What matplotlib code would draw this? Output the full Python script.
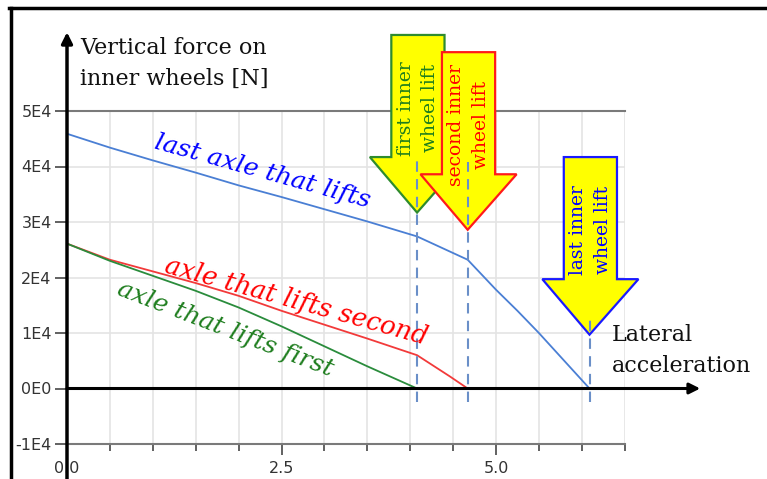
import matplotlib
matplotlib.use("Agg")
import matplotlib.pyplot as plt
from matplotlib.lines import Line2D
from matplotlib.patches import Polygon
from matplotlib.ticker import FixedLocator, MultipleLocator
import numpy as np

# ---------------- data ----------------
x_last = [0, 0.5, 1.0, 1.5, 2.0, 2.5, 3.0, 3.5, 4.08, 4.67, 5.0, 5.25, 5.5, 6.09]
f_last = [4.59e4, 4.34e4, 4.11e4, 3.89e4, 3.66e4, 3.45e4, 3.23e4, 3.01e4, 2.74e4,
          2.32e4, 1.78e4, 1.40e4, 1.00e4, 0.0]
x_second = [0, 0.5, 1.0, 1.5, 2.0, 2.5, 3.0, 3.5, 4.08, 4.46, 4.67]
f_second = [2.61e4, 2.32e4, 2.11e4, 1.90e4, 1.67e4, 1.40e4, 1.15e4, 0.90e4, 0.60e4,
            0.22e4, 0.0]
x_first = [0, 0.5, 1.0, 1.5, 2.0, 2.5, 3.0, 3.5, 4.08]
f_first = [2.61e4, 2.30e4, 2.03e4, 1.76e4, 1.46e4, 1.12e4, 0.76e4, 0.40e4, 0.0]

lift_x = [4.08, 4.67, 6.09]
arrow_tip_y = [3.17e4, 2.86e4, 0.97e4]
dash_top_y = [4.13e4, 4.09e4, 1.33e4]
arrow_texts = ["first inner\nwheel lift", "second inner\nwheel lift", "last inner\nwheel lift"]

y_ticks = [-1e4, 0, 1e4, 2e4, 3e4, 4e4, 5e4]
y_tick_labels = ["-1E4", "0E0", "1E4", "2E4", "3E4", "4E4", "5E4"]
x_ticks = [0.0, 2.5, 5.0]
x_tick_labels = ["0.0", "2.5", "5.0"]

series_labels = ["last axle that lifts", "axle that lifts second", "axle that lifts first"]

# ---------------- styling ----------------
W, H = 767, 479
fig = plt.figure(figsize=(W / 100, H / 100), dpi=100)
fig.patch.set_facecolor("white")

ax_l, ax_r, ax_t, ax_b = 67, 624.7, 111, 444
ax = fig.add_axes([ax_l / W, 1 - ax_b / H, (ax_r - ax_l) / W, (ax_b - ax_t) / H])
ax.set_xlim(0, 6.5)
ax.set_ylim(-1e4, 5e4)

c_blue_line = "#4a7fd4"
c_red_line = "#f23a3a"
c_green_line = "#2a8c3c"
c_dash = "#6a8fc8"
serif = "DejaVu Serif"
sans = "DejaVu Sans"

for s in ["left", "right"]:
    ax.spines[s].set_visible(False)
for s in ["top", "bottom"]:
    ax.spines[s].set_color("#7a7a7a")
    ax.spines[s].set_linewidth(1.5)

ax.xaxis.set_major_locator(FixedLocator(x_ticks))
ax.set_xticklabels(x_tick_labels)
ax.xaxis.set_minor_locator(MultipleLocator(0.5))
ax.yaxis.set_major_locator(FixedLocator(y_ticks))
ax.set_yticklabels(y_tick_labels)
ax.tick_params(axis="x", which="major", length=8, width=1.3, color="#555555",
               labelsize=11.5, labelcolor="#333333", pad=4)
ax.tick_params(axis="x", which="minor", length=5, width=1.3, color="#555555")
ax.tick_params(axis="y", which="major", length=9, width=1.3, color="#555555",
               labelsize=11.5, labelcolor="#333333", pad=2)
for lbl in ax.get_xticklabels() + ax.get_yticklabels():
    lbl.set_fontfamily(sans)

ax.grid(True, which="both", axis="x", color="#e4e4e4", lw=1.2, zorder=0)
ax.grid(True, which="major", axis="y", color="#e4e4e4", lw=1.2, zorder=0)
ax.set_axisbelow(True)

# series
ax.plot(x_last, f_last, color=c_blue_line, lw=1.3, zorder=3)
ax.plot(x_second, f_second, color=c_red_line, lw=1.3, zorder=3)
ax.plot(x_first, f_first, color=c_green_line, lw=1.3, zorder=3)

# block arrows
shaft_hw, head_hw = 0.31, 0.56
head_h, shaft_len = 1.0e4, 2.2e4
edge_cols = ["#2e8b2e", "#ff1a1a", "#1a1aff"]
text_cols = ["#1e7d1e", "#ff0000", "#0000ff"]
for i, (xt, yt) in enumerate(zip(lift_x, arrow_tip_y)):
    xc = xt + 0.01
    yb = yt + head_h
    ytop = yb + shaft_len
    verts = [(xt, yt), (xc + head_hw, yb), (xc + shaft_hw, yb), (xc + shaft_hw, ytop),
             (xc - shaft_hw, ytop), (xc - shaft_hw, yb), (xc - head_hw, yb)]
    poly = Polygon(verts, closed=True, facecolor="#ffff00", edgecolor=edge_cols[i],
                   lw=1.6, zorder=4 + i * 0.1, clip_on=False, joinstyle="miter")
    ax.add_patch(poly)
    ax.text(xc, yt + 1.88e4, arrow_texts[i], rotation=90, ha="center", va="center",
            multialignment="center", color=text_cols[i], fontsize=13.5, family=serif,
            linespacing=1.45, zorder=4.05 + i * 0.1, clip_on=False)

# dashed lift markers
for xl, yt in zip(lift_x, dash_top_y):
    ax.plot([xl, xl], [-0.25e4, yt], color=c_dash, lw=1.5, ls=(0, (5, 3.5)),
            zorder=5, clip_on=False)

# axes arrows
ax.annotate("", xy=(0, 6.42e4), xytext=(0, -1.7e4),
            arrowprops=dict(arrowstyle="-|>", lw=2.5, color="black", mutation_scale=16,
                            shrinkA=0, shrinkB=0),
            annotation_clip=False, zorder=6)
ax.annotate("", xy=(7.38, 0), xytext=(0, 0),
            arrowprops=dict(arrowstyle="-|>", lw=2.2, color="black", mutation_scale=16,
                            shrinkA=0, shrinkB=0),
            annotation_clip=False, zorder=6)

# axis titles
ax.text(0.15, 6.33e4, "Vertical force on\ninner wheels [N]", ha="left", va="top",
        fontsize=16, family=serif, color="#111111", linespacing=1.5, clip_on=False)
ax.text(6.35, 1.16e4, "Lateral\nacceleration", ha="left", va="top",
        fontsize=16, family=serif, color="#111111", linespacing=1.5, clip_on=False)

# series labels
ax.text(2.28, 3.91e4, series_labels[0], rotation=-15.5, rotation_mode="anchor",
        ha="center", va="center", fontsize=18.2, style="italic", family=serif,
        color="#0000ff", zorder=5)
ax.text(2.67, 1.57e4, series_labels[1], rotation=-15.5, rotation_mode="anchor",
        ha="center", va="center", fontsize=18.5, style="italic", family=serif,
        color="#ff0000", zorder=5)
ax.text(1.84, 1.07e4, series_labels[2], rotation=-21, rotation_mode="anchor",
        ha="center", va="center", fontsize=18.2, style="italic", family=serif,
        color="#1e7d1e", zorder=5)

# outer frame
fig.add_artist(Line2D([10.5 / W, 10.5 / W], [0, 1 - 7.5 / H], transform=fig.transFigure,
                      color="black", lw=2.5))
fig.add_artist(Line2D([9.3 / W, 1], [1 - 7.5 / H, 1 - 7.5 / H], transform=fig.transFigure,
                      color="black", lw=2.5))

fig.savefig("out.png", dpi=100)
